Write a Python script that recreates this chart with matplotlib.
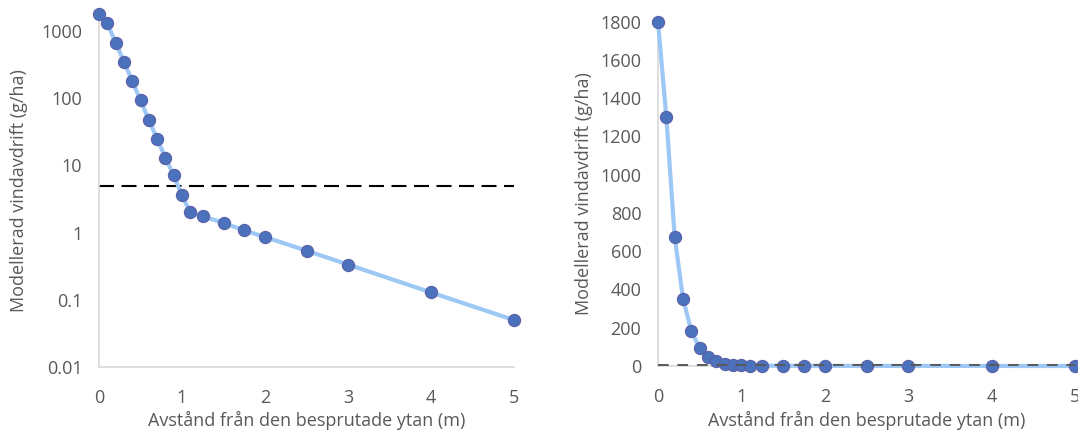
import matplotlib
matplotlib.use("Agg")
import matplotlib.pyplot as plt
from matplotlib.ticker import FixedLocator, FixedFormatter, NullLocator

# ---- data ----
distance_m = [0, 0.1, 0.2, 0.3, 0.4, 0.5, 0.6, 0.7, 0.8, 0.9, 1.0, 1.1,
              1.25, 1.5, 1.75, 2.0, 2.5, 3.0, 4.0, 5.0]
drift_g_ha = [1800, 1300, 675, 352, 182, 93, 48, 25, 13, 7.1, 3.6, 2.0,
              1.75, 1.4, 1.08, 0.86, 0.54, 0.335, 0.129, 0.050]
threshold = 5

log_ticks = [0.01, 0.1, 1, 10, 100, 1000]
log_tick_labels = ["0.01", "0.1", "1", "10", "100", "1000"]
lin_ticks = [0, 200, 400, 600, 800, 1000, 1200, 1400, 1600, 1800]
x_ticks = [0, 1, 2, 3, 4, 5]

xlabel = "Avstånd från den besprutade ytan (m)"
ylabel = "Modellerad vindavdrift (g/ha)"

# ---- style ----
plt.rcParams['font.family'] = ['Open Sans', 'DejaVu Sans']
text_color = "#595959"
spine_color = "#D9D9D9"
line_color = "#9DC8F5"
marker_face = "#4A72BD"
marker_edge = "#5B62A8"
fs = 13

W, H = 1078, 432
fig = plt.figure(figsize=(W / 100, H / 100), dpi=100)

def px_axes(x0, x1, ytop, ybot):
    return fig.add_axes([x0 / W, (H - ybot) / H, (x1 - x0) / W, (ybot - ytop) / H])

ax1 = px_axes(99, 514, 14, 367)
ax2 = px_axes(658, 1075, 21.7, 366)

for ax in (ax1, ax2):
    for s in ("top", "right"):
        ax.spines[s].set_visible(False)
    for s in ("left", "bottom"):
        ax.spines[s].set_color(spine_color)
        ax.spines[s].set_linewidth(1.2)
    ax.tick_params(length=0, labelsize=fs, labelcolor=text_color)
    ax.tick_params(axis="y", pad=12)
    ax.tick_params(axis="x", pad=16)
    ax.set_xlim(0, 5)
    ax.set_xticks(x_ticks)
    ax.set_xticklabels([str(t) for t in x_ticks])
    ax.plot(distance_m, drift_g_ha, color=line_color, lw=3.0, zorder=3,
            solid_capstyle="round", clip_on=False)
    ax.set_xlabel(xlabel, fontsize=fs, color=text_color)
    ax.set_ylabel(ylabel, fontsize=fs, color=text_color)

# left: log scale
ax1.set_yscale("log")
ax1.set_ylim(0.01, 1800)
ax1.yaxis.set_major_locator(FixedLocator(log_ticks))
ax1.yaxis.set_major_formatter(FixedFormatter(log_tick_labels))
ax1.yaxis.set_minor_locator(NullLocator())
ax1.plot([0, 5], [threshold, threshold], color="black", lw=1.5,
         dashes=(7.2, 3.6), zorder=2)
ax1.plot(distance_m, drift_g_ha, linestyle="none", marker="o", ms=8.7,
         mfc=marker_face, mec=marker_edge, mew=0.9, zorder=4, clip_on=False)
ax1.yaxis.set_label_coords(-0.17, 0.5)
ax1.xaxis.set_label_coords(0.5, -0.125)

# right: linear scale
ax2.set_ylim(0, 1800)
ax2.set_yticks(lin_ticks)
ax2.set_yticklabels([str(t) for t in lin_ticks])
ax2.plot(distance_m, drift_g_ha, linestyle="none", marker="o", ms=8.7,
         mfc=marker_face, mec=marker_edge, mew=0.9, zorder=4, clip_on=False)
ax2.plot([0, 5], [threshold, threshold], color="#595959", lw=1.4,
         dashes=(5.5, 4.5), zorder=5, clip_on=False)
ax2.yaxis.set_label_coords(-0.155, 0.5)
ax2.xaxis.set_label_coords(0.5, -0.13)

fig.savefig("out.png", dpi=100)
